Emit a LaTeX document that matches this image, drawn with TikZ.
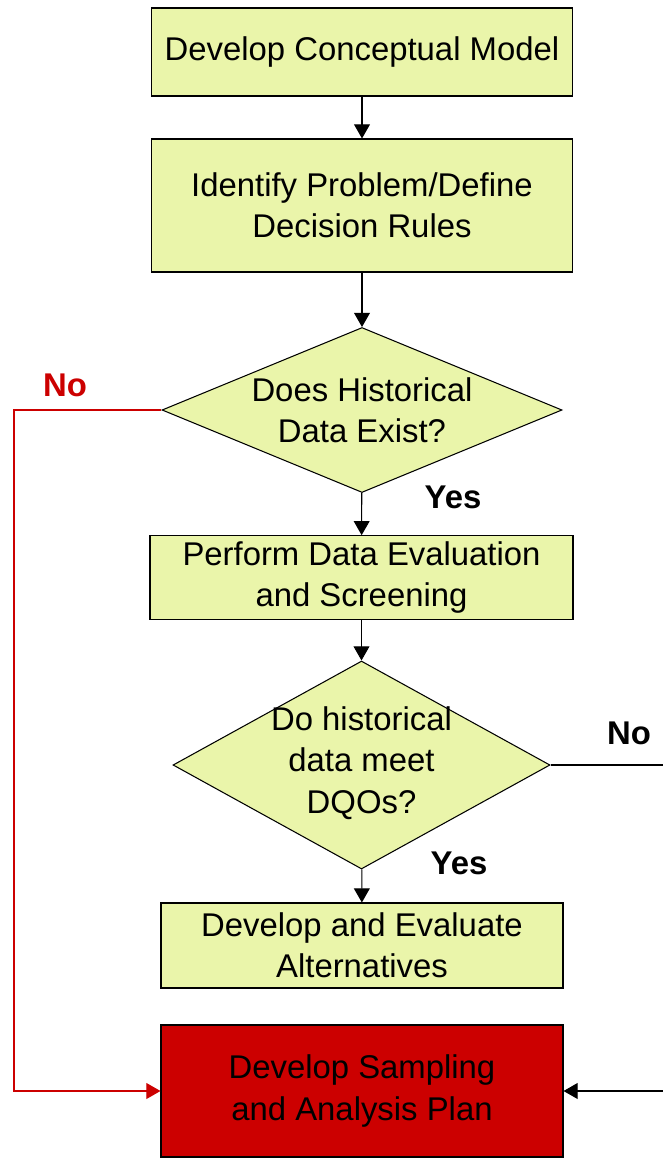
\documentclass[tikz,border=0pt]{standalone}
\usepackage{fontspec}
\setmainfont{Liberation Sans}
\usetikzlibrary{shapes.geometric,arrows.meta}
\definecolor{boxfill}{RGB}{234,245,170}
\definecolor{planred}{RGB}{204,0,0}
\begin{document}
\begin{tikzpicture}[
    every node/.style={font=\fontsize{18.7}{23.5}\selectfont, align=center},
    stepbox/.style={draw, line width=0.6pt, fill=boxfill, minimum width=8.42cm},
    question/.style={draw, diamond, line width=0.6pt, fill=boxfill, inner sep=-3pt},
    flow/.style={-{Triangle[length=8pt,width=9pt]}, line width=0.6pt},
    answer/.style={font=\fontsize{18.7}{23.5}\selectfont\bfseries}]
    \useasboundingbox (0,0) rectangle (13.26,-23.18);
    \node[stepbox, minimum height=1.76cm] (model) at (7.24,-1.04) {Develop Conceptual Model};
    \node[stepbox, minimum height=2.66cm] (rules) at (7.24,-4.11) {Identify Problem/Define\\Decision Rules};
    \node[question, aspect=2.42, minimum width=8cm, minimum height=3.3cm] (exist) at (7.24,-8.2) {Does Historical\\Data Exist?};
    \node[stepbox, minimum width=8.46cm, minimum height=1.58cm] (screen) at (7.23,-11.55) {Perform Data Evaluation\\and Screening};
    \node[question, aspect=1.81, minimum width=7.54cm, minimum height=4.16cm, text depth=0.2cm] (meet) at (7.23,-15.3) {Do historical\\data meet\\DQOs?};
    \node[stepbox, minimum width=8.04cm, minimum height=1.7cm] (alter) at (7.24,-18.91) {Develop and Evaluate\\Alternatives};
    \node[stepbox, fill=planred, minimum width=8.04cm, minimum height=2.64cm] (plan) at (7.24,-21.82) {Develop Sampling\\and Analysis Plan};
    \node[answer, text=planred] (noleft) at (1.3,-7.7) {No};
    \node[answer] (yesexist) at (9.06,-9.94) {Yes};
    \node[answer] (noright) at (12.58,-14.66) {No};
    \node[answer] (yesmeet) at (9.18,-17.26) {Yes};
    \coordinate (lside) at (0.28,0);
    \coordinate (rside) at (13.5,0);
    \draw[flow] (model) -- (rules);
    \draw[flow] (rules) -- (exist);
    \draw[flow] (exist) -- (screen);
    \draw[flow] (screen) -- (meet);
    \draw[flow] (meet) -- (alter);
    \draw[flow, planred] (exist.west) -| (lside |- plan.west) -- (plan.west);
    \draw[flow] (meet.east) -| (rside |- plan.east) -- (plan.east);
\end{tikzpicture}
\end{document}
